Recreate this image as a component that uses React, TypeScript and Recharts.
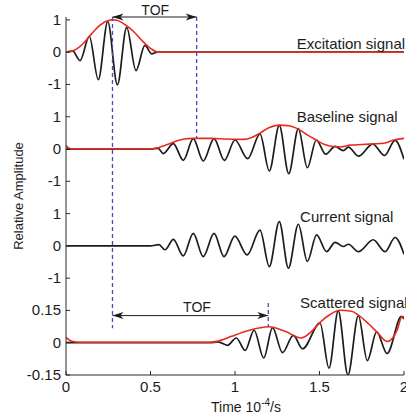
import { LineChart, Line, XAxis, YAxis, ReferenceLine, ReferenceDot } from 'recharts';

// time in units of 1e-4 s
const timeTicks = [0, 0.5, 1, 1.5, 2];
const timeTickLabels = ['0', '0.5', '1', '1.5', '2'];

// all four traces share one y axis, each one on its own band of slots
const yTickSlots = [0, 1, 2, 3, 4, 5, 6, 7, 8, 9, 10, 11];
const yTickLabels = ['-0.15', '0', '0.15', '-1', '0', '1', '-1', '0', '1', '-1', '0', '1'];

// [time, amplitude] at the turning points of each trace
const excitationWave: [number, number][] = [
  [0, 0], [0.04, 0.03], [0.083, -0.26], [0.138, 0.49], [0.191, -0.85], [0.247, 0.95],
  [0.304, -1.01], [0.359, 0.77], [0.414, -0.57], [0.467, 0.21], [0.507, -0.05], [0.54, 0], [2, 0],
];
const excitationEnvelope: [number, number][] = [
  [0, 0], [0.05, 0.06], [0.1, 0.26], [0.15, 0.56], [0.2, 0.83], [0.25, 0.98], [0.275, 1],
  [0.3, 0.99], [0.35, 0.85], [0.4, 0.64], [0.45, 0.36], [0.5, 0.12], [0.545, 0], [2, 0],
];

const baselineWave: [number, number][] = [
  [0, 0], [0.5, 0], [0.545, 0.02], [0.576, -0.14], [0.635, 0.17], [0.694, -0.35], [0.753, 0.32],
  [0.812, -0.37], [0.876, 0.32], [0.937, -0.35], [1.0, 0.28], [1.075, -0.3], [1.148, 0.47],
  [1.203, -0.68], [1.262, 0.73], [1.318, -0.76], [1.375, 0.63], [1.428, -0.58], [1.481, 0.28],
  [1.537, -0.16], [1.592, 0.08], [1.641, -0.05], [1.671, 0.06], [1.73, -0.22], [1.815, 0.15],
  [1.885, -0.2], [1.947, 0.27], [2, -0.32],
];
const baselineEnvelope: [number, number][] = [
  [0, 0.11], [0.015, 0.03], [0.04, 0], [0.49, 0], [0.55, 0.05], [0.6, 0.14], [0.65, 0.24],
  [0.7, 0.31], [0.75, 0.33], [0.85, 0.33], [0.95, 0.31], [1.05, 0.3], [1.1, 0.36], [1.15, 0.5],
  [1.2, 0.66], [1.26, 0.74], [1.32, 0.72], [1.38, 0.6], [1.43, 0.43], [1.48, 0.28], [1.53, 0.14],
  [1.58, 0.08], [1.63, 0.07], [1.68, 0.12], [1.75, 0.14], [1.82, 0.16], [1.88, 0.18], [1.94, 0.28],
  [2, 0.33],
];

const currentWave: [number, number][] = [
  [0, 0], [0.5, 0], [0.55, 0.04], [0.586, -0.12], [0.635, 0.2], [0.694, -0.31], [0.753, 0.39],
  [0.812, -0.33], [0.876, 0.39], [0.935, -0.33], [0.999, 0.3], [1.072, -0.28], [1.148, 0.49],
  [1.203, -0.64], [1.262, 0.75], [1.316, -0.69], [1.375, 0.67], [1.428, -0.48], [1.483, 0.34],
  [1.542, -0.18], [1.592, 0.11], [1.641, -0.02], [1.671, 0.05], [1.73, -0.18], [1.818, 0.19],
  [1.888, -0.18], [1.947, 0.26], [2, -0.26],
];

const scatteredWave: [number, number][] = [
  [0, 0], [0.85, 0], [0.9, 0.004], [0.955, -0.012], [1.008, 0.022], [1.06, -0.036], [1.113, 0.058],
  [1.17, -0.071], [1.222, 0.07], [1.281, -0.046], [1.345, 0.034], [1.4, -0.028], [1.503, 0.091],
  [1.556, -0.118], [1.611, 0.148], [1.668, -0.15], [1.73, 0.126], [1.783, -0.083], [1.838, 0.05],
  [1.9, -0.05], [1.985, 0.122], [2, 0.11],
];
const scatteredEnvelope: [number, number][] = [
  [0, 0.025], [0.03, 0.008], [0.08, 0.002], [0.85, 0.002], [0.92, 0.012], [0.98, 0.03],
  [1.08, 0.057], [1.2, 0.074], [1.3, 0.052], [1.39, 0.022], [1.45, 0.05], [1.5, 0.092],
  [1.56, 0.13], [1.62, 0.151], [1.69, 0.146], [1.73, 0.128], [1.79, 0.088], [1.84, 0.05],
  [1.9, 0.006], [1.96, 0.06], [1.986, 0.12], [2, 0.122],
];

const FONT = '"Liberation Sans", Arial, sans-serif';
const INK = '#1c1c1c';
const AXIS = '#2a2a2a';
const RED = '#ea2a1f';
const DASH = '#4b4bb8';

// put a trace on its band: base is the slot of its zero line, scale the amplitude per slot
const toRows = (pts: [number, number][], base: number, scale: number) =>
  pts.map(([t, v]) => ({ t, y: base + v / scale }));

const YTick = ({ x, y, payload }: any) => (
  <g>
    <line x1={x} y1={y} x2={x + 4} y2={y} stroke={AXIS} />
    <text x={x - 5} y={y} dy={5} textAnchor="end" fontSize={15} fill={INK} fontFamily={FONT}>
      {yTickLabels[yTickSlots.indexOf(payload.value)]}
    </text>
  </g>
);

const XTick = ({ x, y, payload }: any) => (
  <g>
    <line x1={x} y1={y} x2={x} y2={y - 4} stroke={AXIS} />
    <text x={x} y={y} dy={17} textAnchor="middle" fontSize={15} fill={INK} fontFamily={FONT}>
      {timeTickLabels[timeTicks.indexOf(payload.value)]}
    </text>
  </g>
);

const textAt = (label: string, anchor: 'start' | 'middle', size = 15) => (p: any) => (
  <text x={p.cx} y={p.cy} textAnchor={anchor} fontSize={size} fill={INK} fontFamily={FONT}>
    {label}
  </text>
);

// double-headed horizontal arrow
const arrowShape = (p: any) => {
  const { x1, y1, x2 } = p;
  const head = (tip: number, dir: number) =>
    `${tip},${y1} ${tip - dir * 11},${y1 - 3.5} ${tip - dir * 8},${y1} ${tip - dir * 11},${y1 + 3.5}`;
  return (
    <g>
      <line x1={x1} y1={y1} x2={x2} y2={y1} stroke={INK} strokeWidth={1} />
      <polygon points={head(x2, 1)} fill={INK} />
      <polygon points={head(x1, -1)} fill={INK} />
    </g>
  );
};

export default function App() {
  const excitation = toRows(excitationWave, 10, 1);
  const excitationEnv = toRows(excitationEnvelope, 10, 1);
  const baseline = toRows(baselineWave, 7, 1);
  const baselineEnv = toRows(baselineEnvelope, 7, 1);
  const current = toRows(currentWave, 4, 1);
  const scattered = toRows(scatteredWave, 1, 0.15);
  const scatteredEnv = toRows(scatteredEnvelope, 1, 0.15);

  const top = 11.09;
  const wave = { type: 'monotone' as const, stroke: INK, strokeWidth: 1.7, dot: false, isAnimationActive: false };
  const env = { type: 'monotone' as const, stroke: RED, strokeWidth: 1.6, dot: false, isAnimationActive: false };

  return (
    <div style={{ position: 'absolute', left: 0, top: 0, background: '#fff' }}>
      <LineChart width={406} height={419} margin={{ top: 17, right: 2, bottom: 0, left: 0 }}>
        <XAxis
          type="number"
          dataKey="t"
          domain={[0, 2]}
          ticks={timeTicks}
          interval={0}
          allowDataOverflow
          stroke={AXIS}
          height={44}
          tickSize={0}
          tickMargin={0}
          tickLine={false}
          tick={<XTick />}
          label={({ viewBox }: any) => (
            <text
              x={viewBox.x + viewBox.width / 2 + 11}
              y={viewBox.y + 37}
              textAnchor="middle"
              fontSize={14}
              fill={INK}
              fontFamily={FONT}
            >
              Time 10
              <tspan fontSize={10} dy={-6}>-4</tspan>
              <tspan dy={6}>/s</tspan>
            </text>
          )}
        />
        <YAxis
          type="number"
          domain={[0, top]}
          ticks={yTickSlots}
          interval={0}
          allowDataOverflow
          stroke={AXIS}
          width={66}
          tickSize={0}
          tickMargin={0}
          tickLine={false}
          tick={<YTick />}
          label={({ viewBox }: any) => (
            <text
              transform={`translate(${viewBox.x + 23}, ${viewBox.y + viewBox.height / 2}) rotate(-90)`}
              textAnchor="middle"
              fontSize={13}
              fill={INK}
              fontFamily={FONT}
            >
              Relative Amplitude
            </text>
          )}
        />

        <Line data={excitation} dataKey="y" {...wave} />
        <Line data={excitationEnv} dataKey="y" {...env} />
        <Line data={baseline} dataKey="y" {...wave} />
        <Line data={baselineEnv} dataKey="y" {...env} />
        <Line data={current} dataKey="y" {...wave} />
        <Line data={scattered} dataKey="y" {...wave} />
        <Line data={scatteredEnv} dataKey="y" {...env} />

        {/* time-of-flight markers */}
        <ReferenceLine segment={[{ x: 0.275, y: top }, { x: 0.275, y: 1.45 }]} stroke={DASH} strokeWidth={1.3} strokeDasharray="4 3" ifOverflow="visible" />
        <ReferenceLine segment={[{ x: 0.773, y: top }, { x: 0.773, y: 7.33 }]} stroke={DASH} strokeWidth={1.3} strokeDasharray="4 3" ifOverflow="visible" />
        <ReferenceLine segment={[{ x: 1.197, y: 2.23 }, { x: 1.197, y: 1.49 }]} stroke={DASH} strokeWidth={1.3} strokeDasharray="4 3" ifOverflow="visible" />
        <ReferenceLine segment={[{ x: 0.275, y: top }, { x: 0.773, y: top }]} shape={arrowShape} ifOverflow="visible" />
        <ReferenceLine segment={[{ x: 0.275, y: 1.84 }, { x: 1.197, y: 1.84 }]} shape={arrowShape} ifOverflow="visible" />

        <ReferenceDot x={0.528} y={11.16} r={0} shape={textAt('TOF', 'middle', 14)} ifOverflow="visible" />
        <ReferenceDot x={0.775} y={1.94} r={0} shape={textAt('TOF', 'middle', 14)} ifOverflow="visible" />
        <ReferenceDot x={1.365} y={10.1} r={0} shape={textAt('Excitation signal', 'start')} ifOverflow="visible" />
        <ReferenceDot x={1.365} y={7.85} r={0} shape={textAt('Baseline signal', 'start')} ifOverflow="visible" />
        <ReferenceDot x={1.385} y={4.75} r={0} shape={textAt('Current signal', 'start')} ifOverflow="visible" />
        <ReferenceDot x={1.385} y={2.07} r={0} shape={textAt('Scattered signal', 'start')} ifOverflow="visible" />
      </LineChart>
    </div>
  );
}
